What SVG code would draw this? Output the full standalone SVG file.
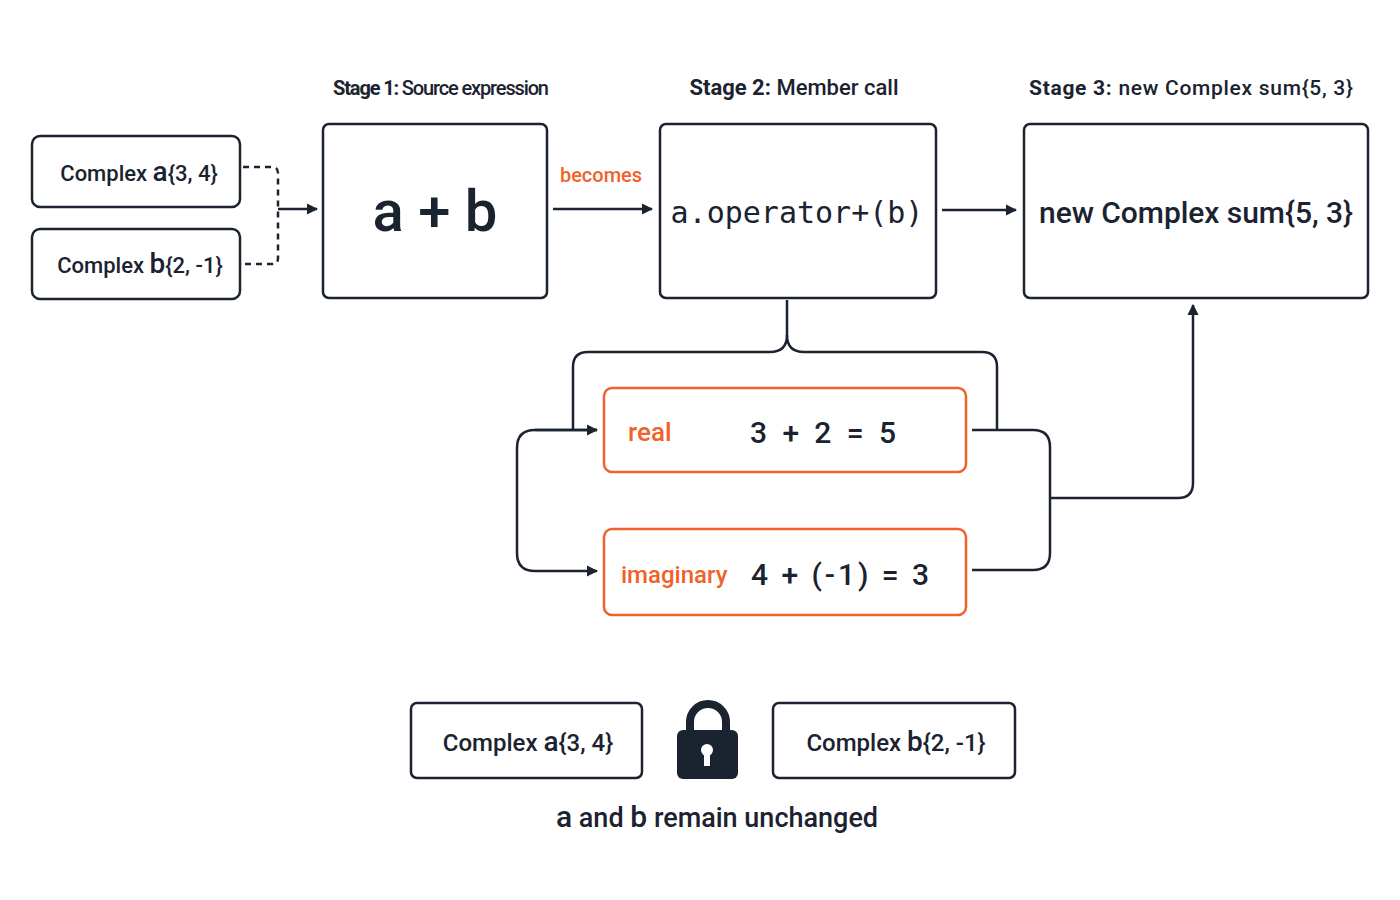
<svg xmlns="http://www.w3.org/2000/svg" width="1400" height="900" viewBox="0 0 1400 900">
<defs>
<style>
.box{fill:#fff;stroke:#1b2230;stroke-width:2.5}
.obox{fill:#fff;stroke:#f0622a;stroke-width:2.5}
.t{font-family:"Roboto","Liberation Sans",Arial,sans-serif;font-weight:500;fill:#1b2230}
.m{font-family:"DejaVu Sans Mono",monospace;fill:#1b2230}
.o{font-family:"Roboto","Liberation Sans",Arial,sans-serif;font-weight:500;fill:#f0622a}
.c{fill:none;stroke:#1b2230;stroke-width:2.5}
</style>
<marker id="ah" viewBox="0 0 10 10" refX="9" refY="5" markerWidth="4.5" markerHeight="4.5" orient="auto"><path d="M0,0L10,5L0,10z" fill="#1b2230"/></marker>
</defs>
<rect width="1400" height="900" fill="#fff"/>
<g id="labels">
<text class="t" x="441" y="95" font-size="20" text-anchor="middle" textLength="216"><tspan font-weight="bold">Stage 1:</tspan> Source expression</text>
<text class="t" x="794" y="95" font-size="22" text-anchor="middle"><tspan font-weight="bold">Stage 2:</tspan> Member call</text>
<text class="t" x="1191" y="95" font-size="21" text-anchor="middle" textLength="324"><tspan font-weight="bold">Stage 3:</tspan> new Complex sum{5, 3}</text>
<text class="o" x="601" y="182" font-size="20" text-anchor="middle">becomes</text>
</g>
<g id="nodeA"><rect class="box" x="32" y="136" width="208" height="71" rx="8"/><text class="t" x="139" y="181" font-size="22" text-anchor="middle">Complex <tspan font-size="28">a</tspan>{3, 4}</text></g>
<g id="nodeB"><rect class="box" x="32" y="229" width="208" height="70" rx="8"/><text class="t" x="140" y="273" font-size="22" text-anchor="middle">Complex <tspan font-size="28">b</tspan>{2, -1}</text></g>
<g id="stage1"><rect class="box" x="323" y="124" width="224" height="174" rx="6"/><text class="t" x="435" y="231" font-size="58" text-anchor="middle">a + b</text></g>
<g id="stage2"><rect class="box" x="660" y="124" width="276" height="174" rx="6"/><text class="m" x="797" y="223" font-size="30" text-anchor="middle">a.operator+(b)</text></g>
<g id="stage3"><rect class="box" x="1024" y="124" width="344" height="174" rx="6"/><text class="t" x="1196" y="223" font-size="30" text-anchor="middle" textLength="314">new Complex sum{5, 3}</text></g>
<g id="real"><rect class="obox" x="604" y="388" width="362" height="84" rx="8"/><text class="o" x="628" y="441" font-size="26">real</text><text class="t" x="823" y="443" font-size="30" text-anchor="middle" textLength="146">3 + 2 = 5</text></g>
<g id="imag"><rect class="obox" x="604" y="529" width="362" height="86" rx="8"/><text class="o" x="621" y="583" font-size="24">imaginary</text><text class="t" x="840" y="585" font-size="30" text-anchor="middle" textLength="178">4 + (-1) = 3</text></g>
<g id="lockA"><rect class="box" x="411" y="703" width="231" height="75" rx="6"/><text class="t" x="528" y="751" font-size="24" text-anchor="middle">Complex <tspan font-size="28">a</tspan>{3, 4}</text></g>
<g id="lock"><path d="M690,732v-10a18,18 0 0 1 36,0v10" fill="none" stroke="#1b2230" stroke-width="8"/><rect x="677" y="730" width="61" height="49" rx="6" fill="#1b2230"/><circle cx="707" cy="750" r="6" fill="#fff"/><rect x="704" y="752" width="6" height="14" fill="#fff"/></g>
<g id="lockB"><rect class="box" x="773" y="703" width="242" height="75" rx="6"/><text class="t" x="896" y="751" font-size="24" text-anchor="middle">Complex <tspan font-size="28">b</tspan>{2, -1}</text></g>
<g id="caption"><text class="t" x="717" y="827" font-size="27" text-anchor="middle"><tspan font-size="30">a</tspan> and <tspan font-size="30">b</tspan> remain unchanged</text></g>
<g id="connectors">
<path class="c" d="M243,167H272q6,0 6,6V258q0,6 -6,6H243" stroke-dasharray="6,5" stroke-width="2"/>
<path class="c" d="M278,209H317" marker-end="url(#ah)"/>
<path class="c" d="M553,209H652" marker-end="url(#ah)"/>
<path class="c" d="M942,210H1016" marker-end="url(#ah)"/>
<path class="c" d="M787,300V335q0,17 -17,17H588q-15,0 -15,15V430"/>
<path class="c" d="M787,335q0,17 17,17H982q15,0 15,15V430"/>
<path class="c" d="M597,430H535q-18,0 -18,18V553q0,18 18,18H597" marker-end="url(#ah)"/>
<path class="c" d="M535,430H597" marker-end="url(#ah)"/>
<path class="c" d="M972,430H1033q17,0 17,17V553q0,17 -17,17H972"/>
<path class="c" d="M1050,498H1178q15,0 15,-15V305" marker-end="url(#ah)"/>
</g>
</svg>
